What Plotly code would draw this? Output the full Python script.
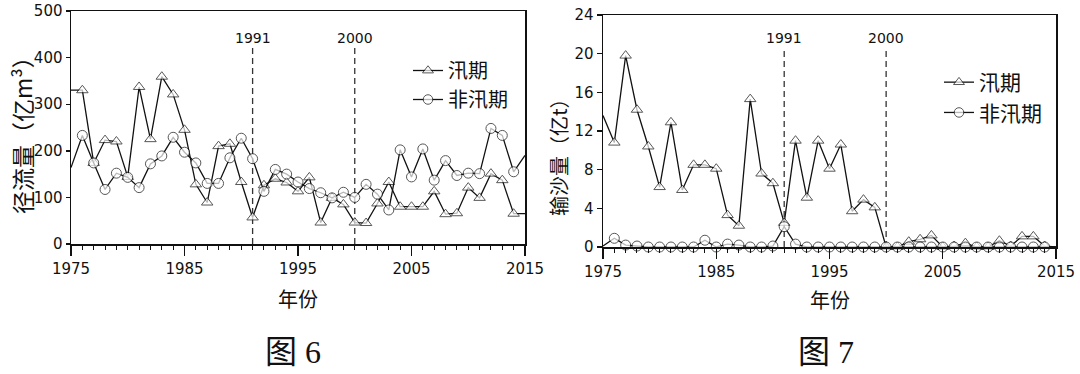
import plotly.graph_objects as go

# ---------------- data ----------------
years = list(range(1975, 2016))

runoff_flood = [330, 330, 174, 223, 220, 144, 337, 225, 359, 321,
                245, 128, 89, 210, 215, 133, 57, 126, 140, 132,
                113, 143, 46, 99, 85, 46, 45, 87, 133, 80,
                80, 80, 113, 64, 66, 121, 99, 151, 137, 65,
                65]
runoff_nonflood = [164, 233, 174, 117, 152, 143, 121, 172, 189, 229,
                   197, 174, 130, 130, 185, 227, 183, 113, 160, 150,
                   133, 119, 110, 99, 111, 100, 128, 107, 73, 202,
                   144, 204, 137, 179, 147, 152, 151, 248, 233, 155,
                   190]
sediment_flood = [13.6, 10.8, 19.8, 14.2, 10.4, 6.2, 12.9, 5.9, 8.5, 8.5,
                  8.1, 3.3, 2.2, 15.3, 7.6, 6.6, 2.5, 11.0, 5.1, 11.0,
                  8.1, 10.6, 3.7, 4.9, 4.1, 0.0, 0.0, 0.55, 0.8, 1.2,
                  0.0, 0.1, 0.4, 0.0, 0.0, 0.65, 0.1, 1.1, 1.1, 0.1,
                  0.0]
sediment_nonflood = [0.1, 0.9, 0.2, 0.1, 0.0, 0.0, 0.0, 0.0, 0.0, 0.7,
                     0.0, 0.3, 0.2, 0.0, 0.0, 0.1, 2.1, 0.3, 0.0, 0.0,
                     0.0, 0.0, 0.0, 0.0, 0.0, 0.0, 0.0, 0.0, 0.0, 0.0,
                     0.0, 0.0, 0.0, 0.0, 0.0, 0.0, 0.0, 0.0, 0.0, 0.0,
                     0.0]
break_years = [1991, 2000]
series_names = ["汛期", "非汛期"]
runoff_ticks = [0, 100, 200, 300, 400, 500]
sediment_ticks = [0, 4, 8, 12, 16, 20, 24]

# ---------------- style ----------------
W, H = 1080, 374
INK = "#111111"
CJK = "Noto Sans CJK SC"
NUM = "DejaVu Sans"

def px(x):
    return x / W

def py(y):
    return 1 - y / H

n = len(years)
tri_sizes = [0] + [10] * (n - 2) + [0]
circ_sizes = [0] + [10] * (n - 2) + [0]

fig = go.Figure()

def add_pair(flood, nonflood, xa, ya, legend):
    fig.add_trace(go.Scatter(
        x=years, y=flood, name=series_names[0], xaxis=xa, yaxis=ya, legend=legend,
        mode="lines+markers", cliponaxis=False,
        line=dict(color=INK, width=1.3),
        marker=dict(symbol="triangle-up", size=tri_sizes, color="white",
                    line=dict(width=1.0, color=INK)),
    ))
    fig.add_trace(go.Scatter(
        x=years, y=nonflood, name=series_names[1], xaxis=xa, yaxis=ya, legend=legend,
        mode="lines+markers", cliponaxis=False,
        line=dict(color=INK, width=1.3),
        marker=dict(symbol="circle", size=circ_sizes, color="white",
                    line=dict(width=1.0, color=INK)),
    ))

add_pair(runoff_flood, runoff_nonflood, "x", "y", "legend")
add_pair(sediment_flood, sediment_nonflood, "x2", "y2", "legend2")

xcommon = dict(
    range=[1975, 2015], tickmode="linear", tick0=1975, dtick=10,
    ticks="outside", ticklen=10, tickwidth=1.4, tickcolor=INK,
    showline=True, linewidth=1.5, linecolor=INK, mirror=True,
    showgrid=False, zeroline=False, automargin=False,
    tickfont=dict(family=NUM, size=15, color=INK),
    minor=dict(dtick=1, ticks="outside", ticklen=4, tickwidth=1, tickcolor=INK),
)
ycommon = dict(
    ticks="outside", tickwidth=1.4, tickcolor=INK,
    showline=True, linewidth=1.5, linecolor=INK, mirror=True,
    showgrid=False, zeroline=False, automargin=False,
    tickfont=dict(family=NUM, size=15, color=INK),
)

fig.update_layout(
    width=W, height=H,
    margin=dict(l=0, r=0, t=0, b=0, autoexpand=False),
    paper_bgcolor="white", plot_bgcolor="white",
    hovermode=False,
    xaxis=dict(domain=[px(71), px(525)], anchor="y", **xcommon),
    yaxis=dict(domain=[py(244), py(11)], anchor="x", range=[0, 500],
               tickvals=runoff_ticks, ticklen=4, **ycommon),
    xaxis2=dict(domain=[px(603), px(1056)], anchor="y2", **xcommon),
    yaxis2=dict(domain=[py(247), py(15)], anchor="x2", range=[0, 24],
                tickvals=sediment_ticks, ticklen=5, **ycommon),
    legend=dict(x=px(408), y=py(51), xanchor="left", yanchor="top",
                font=dict(family=CJK, size=20, color=INK),
                bgcolor="rgba(0,0,0,0)", itemwidth=30, tracegroupgap=0),
    legend2=dict(x=px(939), y=py(62), xanchor="left", yanchor="top",
                 font=dict(family=CJK, size=21, color=INK),
                 bgcolor="rgba(0,0,0,0)", itemwidth=30, tracegroupgap=0),
    showlegend=True,
)

shapes = []
annotations = []
dash_top = {"y": 427, "y2": 20.6}
label_y = {"y": 442, "y2": 21.6}
for xa, ya in [("x", "y"), ("x2", "y2")]:
    for yr in break_years:
        shapes.append(dict(type="line", xref=xa, yref=ya, x0=yr, x1=yr,
                           y0=0, y1=dash_top[ya], layer="below",
                           line=dict(color="#333333", width=1.3, dash="6px,4px")))
        annotations.append(dict(xref=xa, yref=ya, x=yr, y=label_y[ya],
                                text=str(yr), showarrow=False,
                                xanchor="center", yanchor="middle",
                                font=dict(family=NUM, size=14, color=INK)))

def paper_text(x, y, text, size, family=CJK, angle=0):
    return dict(xref="paper", yref="paper", x=px(x), y=py(y), text=text,
                xanchor="center", yanchor="middle", textangle=angle,
                showarrow=False, font=dict(family=family, size=size, color=INK))

serif = "Liberation Serif, Noto Sans CJK SC"
annotations += [
    paper_text(298, 298, "年份", 20),
    paper_text(830, 299, "年份", 20),
    paper_text(22, 130, "径流量（亿m³）", 23, angle=-90),
    paper_text(558, 152, "输沙量（亿t）", 20, angle=-90),
    paper_text(293, 352, "图 6", 32, family=serif),
    paper_text(826, 352, "图 7", 32, family=serif),
]

fig.update_layout(shapes=shapes, annotations=annotations)
fig.write_html(
    "out.html",
    config={"displayModeBar": False, "staticPlot": True},
    post_script="document.body.style.margin='0px';document.body.style.overflow='hidden';",
)
